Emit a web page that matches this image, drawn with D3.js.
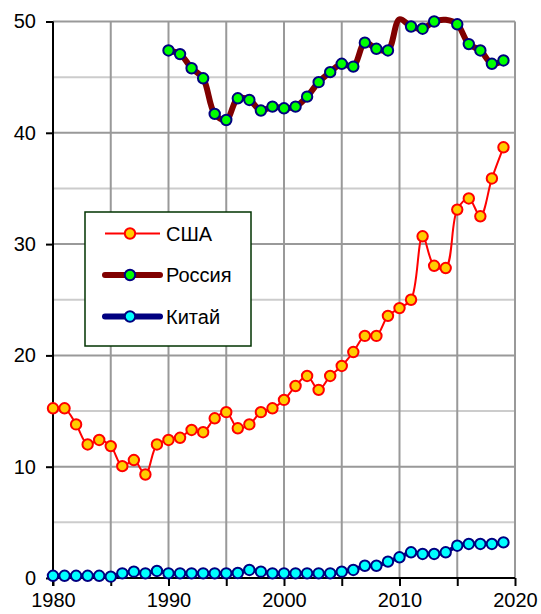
<!DOCTYPE html>
<html><head><meta charset="utf-8">
<script src="https://cdn.jsdelivr.net/npm/d3@7"></script>
<style>body{margin:0;background:#fff}svg{display:block}text{font-family:"Liberation Sans",Arial,sans-serif}</style>
</head><body><svg id="c" width="541" height="614"></svg>
<script>
const years = d3.range(1980, 2020);
const usa = [15.25,15.25,13.8,12.0,12.4,11.85,10.05,10.6,9.3,12.0,
  12.4,12.6,13.3,13.1,14.35,14.9,13.45,13.8,14.9,15.25,
  16.0,17.25,18.15,16.9,18.15,19.05,20.3,21.75,21.75,23.55,
  24.25,25.0,30.7,28.05,27.85,33.1,34.1,32.5,35.9,38.7];
const russiaYears = d3.range(1990, 2020);
const russia = [47.4,47.07,45.8,44.9,41.7,41.15,43.1,42.95,42.0,42.35,
  42.2,42.35,43.25,44.55,45.45,46.2,45.95,48.1,47.55,47.4,
  50.2,49.55,49.35,50.0,50.15,49.75,47.97,47.4,46.2,46.5];
const china = [0.2,0.2,0.2,0.2,0.2,0.12,0.42,0.57,0.42,0.63,
  0.42,0.42,0.42,0.42,0.42,0.42,0.45,0.72,0.57,0.42,
  0.42,0.42,0.42,0.42,0.42,0.57,0.72,1.1,1.1,1.47,
  1.86,2.31,2.16,2.16,2.31,2.9,3.06,3.06,3.06,3.2];
const yTicks = [0,10,20,30,40,50];
const yMinor = [5,15,25,35,45];
const xTicks = [1980,1990,2000,2010,2020];
const xGrid = d3.range(1985, 2020, 5);
const xTickMarks = d3.range(1980, 2021, 5);
const legendLabels = ["США","Россия","Китай"];

const svg = d3.select("#c");
const x = d3.scaleLinear().domain([1980,2020]).range([53,515]);
const y = d3.scaleLinear().domain([0,50]).range([578,21.5]);

// grid
svg.append("g").selectAll("line").data(yMinor).join("line")
  .attr("x1",53).attr("x2",515).attr("y1",d=>y(d)).attr("y2",d=>y(d))
  .attr("stroke","#cccccc").attr("stroke-width",2);
svg.append("g").selectAll("line").data(yTicks.slice(1)).join("line")
  .attr("x1",53).attr("x2",515).attr("y1",d=>y(d)).attr("y2",d=>y(d))
  .attr("stroke","#999999").attr("stroke-width",2);
svg.append("g").selectAll("line").data(xGrid.concat([2020])).join("line")
  .attr("x1",d=>x(d)).attr("x2",d=>x(d)).attr("y1",y(0)).attr("y2",y(50))
  .attr("stroke","#999999").attr("stroke-width",2);

// axes
const xAxis = d3.axisBottom(x).tickValues(xTickMarks).tickSize(8)
  .tickFormat(d => xTicks.includes(d) ? String(d) : "");
const gx = svg.append("g").attr("transform",`translate(0,${y(0)})`).call(xAxis);
gx.select(".domain").attr("stroke","#000").attr("stroke-width",2).attr("d",`M53,0H515`);
gx.selectAll(".tick line").attr("stroke","#000").attr("stroke-width",2);
gx.selectAll(".tick text").attr("font-size",20).attr("fill","#000").attr("y",15)
  .attr("font-family","Liberation Sans, Arial, sans-serif");

const yAxis = d3.axisLeft(y).tickValues(yTicks).tickSize(7).tickPadding(10);
const gy = svg.append("g").attr("transform","translate(53,0)").call(yAxis);
gy.select(".domain").attr("stroke","#000").attr("stroke-width",2).attr("d",`M0,${y(0)+8}V${y(50)}`);
gy.selectAll(".tick line").attr("stroke","#000").attr("stroke-width",2);
gy.selectAll(".tick text").attr("font-size",20).attr("fill","#000")
  .attr("font-family","Liberation Sans, Arial, sans-serif");

const curve = d3.curveCatmullRom.alpha(0.5);
function series(xs, vals, lineColor, lineW, fill, stroke){
  const pts = xs.map((yr,i)=>({yr, v: vals[i]}));
  svg.append("path").datum(pts)
    .attr("d", d3.line().x(d=>x(d.yr)).y(d=>y(d.v)).curve(curve))
    .attr("fill","none").attr("stroke",lineColor).attr("stroke-width",lineW)
    .attr("stroke-linejoin","round").attr("stroke-linecap","round");
  svg.append("g").selectAll("circle").data(pts.filter(d=>d.v<=50)).join("circle")
    .attr("cx",d=>x(d.yr)).attr("cy",d=>y(d.v)).attr("r",5.2)
    .attr("fill",fill).attr("stroke",stroke).attr("stroke-width",2);
}
series(years, usa, "#ff0000", 2, "#ffcc00", "#ff0000");
series(russiaYears, russia, "#800000", 6, "#00ff00", "#000080");
series(years, china, "#000080", 4, "#00ffff", "#000080");

// legend
const lg = svg.append("g");
lg.append("rect").attr("x",85).attr("y",212).attr("width",166).attr("height",134)
  .attr("fill","#fff").attr("stroke","#003300").attr("stroke-width",1.5);
const legendStyles = [
  {c:"#ff0000", w:2, f:"#ffcc00", s:"#ff0000"},
  {c:"#800000", w:6, f:"#00ff00", s:"#000080"},
  {c:"#000080", w:6, f:"#00ffff", s:"#000080"}];
const rowsY = [233.5, 275, 316.5];
legendLabels.forEach((lab,i)=>{
  const st = legendStyles[i];
  lg.append("line").attr("x1",105).attr("x2",160).attr("y1",rowsY[i]).attr("y2",rowsY[i])
    .attr("stroke",st.c).attr("stroke-width",st.w).attr("stroke-linecap", i? "round":"butt");
  lg.append("circle").attr("cx",130).attr("cy",rowsY[i]).attr("r",5.2)
    .attr("fill",st.f).attr("stroke",st.s).attr("stroke-width",2);
  lg.append("text").attr("x",166).attr("y",rowsY[i]).attr("dy","0.36em")
    .attr("font-size",20).attr("fill","#000").text(lab);
});
</script></body></html>
